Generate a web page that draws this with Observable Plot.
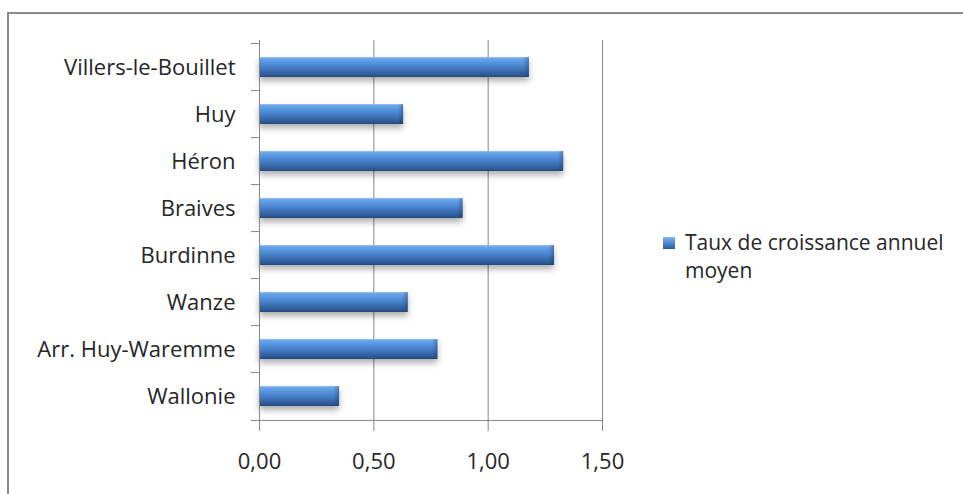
<!DOCTYPE html>
<html>
<head>
<meta charset="utf-8">
<script src="https://cdn.jsdelivr.net/npm/d3@7"></script>
<script src="https://cdn.jsdelivr.net/npm/@observablehq/plot@0.6"></script>
<style>
  html, body { margin: 0; padding: 0; background: #fff; overflow: hidden; }
  #wrap { position: relative; width: 963px; height: 494px; }
  #frame { position: absolute; left: 7px; top: 12px; width: 1000px; height: 600px;
           border: 2px solid #8a8a8a; box-sizing: border-box; pointer-events: none; }
  #legend { position: absolute; left: 663px; top: 228px; font-family: "Open Sans", Lato, sans-serif;
            font-size: 21px; color: #262626; line-height: 28px; white-space: nowrap; }
  #legend .sw { display: inline-block; width: 12px; height: 12px; margin-right: 10px;
                background: linear-gradient(#7fb5ee, #4a84cc 55%, #2d5a98); vertical-align: 1px; }
  #legend .l2 { padding-left: 22px; }
</style>
</head>
<body>
<div id="wrap"><div id="frame"></div><div id="chart"></div><div id="legend"></div></div>
<script>
const categories = ["Villers-le-Bouillet", "Huy", "Héron", "Braives", "Burdinne", "Wanze", "Arr. Huy-Waremme", "Wallonie"];
const values = [1.18, 0.63, 1.33, 0.89, 1.29, 0.65, 0.78, 0.35];
const xTicks = [0, 0.5, 1.0, 1.5];
const xTickLabels = ["0,00", "0,50", "1,00", "1,50"];
const seriesLines = ["Taux de croissance annuel", "moyen"];

const data = categories.map((name, i) => ({name, value: values[i]}));

const W = 963, H = 494, mL = 259, mR = 361, mT = 40, mB = 71;
const step = (H - mT - mB) / categories.length;
const gridColor = "#878787";

const chart = Plot.plot({
  width: W, height: H,
  marginLeft: mL, marginRight: mR, marginTop: mT, marginBottom: mB,
  style: {fontFamily: "'Open Sans', Lato, sans-serif", fontSize: "22px", color: "#262626", background: "transparent"},
  x: {domain: [0, 1.5], ticks: xTicks, tickFormat: d => xTickLabels[xTicks.indexOf(d)], label: null},
  y: {domain: categories, paddingInner: 0.58, paddingOuter: 0.29, label: null},
  marks: [
    Plot.ruleX(xTicks.slice(1), {stroke: gridColor, strokeWidth: 1}),
    Plot.barX(data, {x: "value", y: "name", fill: "url(#barGrad)"}),
    Plot.barX(data, {x1: d => d.value - 0.024, x2: "value", y: "name", fill: "url(#capGrad)"}),
    Plot.ruleX([0], {stroke: gridColor, strokeWidth: 1}),
    Plot.ruleY(categories, {y: d => d, x1: -0.035, x2: 0, dy: -step / 2, stroke: gridColor}),
    Plot.ruleY([categories[categories.length - 1]], {y: d => d, x1: -0.035, x2: 1.5, dy: step / 2, stroke: gridColor}),
    Plot.axisX({ticks: xTicks, tickFormat: d => xTickLabels[xTicks.indexOf(d)], tickSize: 8, tickPadding: 22, stroke: gridColor, fill: "#262626", label: null}),
    Plot.axisY({tickSize: 0, tickPadding: 24, fill: "#262626", label: null})
  ]
});

const ns = "http://www.w3.org/2000/svg";
const defs = document.createElementNS(ns, "defs");
defs.innerHTML = `
<linearGradient id="barGrad" x1="0" y1="0" x2="0" y2="1">
  <stop offset="0" stop-color="#9cc8f4"/>
  <stop offset="0.08" stop-color="#68a5ea"/>
  <stop offset="0.32" stop-color="#5290dc"/>
  <stop offset="0.52" stop-color="#457ec6"/>
  <stop offset="0.75" stop-color="#3766a6"/>
  <stop offset="0.93" stop-color="#2b5590"/>
  <stop offset="1" stop-color="#22467a"/>
</linearGradient>
<linearGradient id="capGrad" x1="0" y1="0" x2="1" y2="0">
  <stop offset="0" stop-color="#1a355e" stop-opacity="0"/>
  <stop offset="0.85" stop-color="#1a355e" stop-opacity="0.3"/>
  <stop offset="1" stop-color="#1a355e" stop-opacity="0.6"/>
</linearGradient>`;
chart.insertBefore(defs, chart.firstChild);
const barGs = chart.querySelectorAll('g[aria-label="bar"]');
if (barGs[0]) barGs[0].style.filter = "drop-shadow(0px 4px 3px rgba(0,0,0,0.32))";

document.getElementById("chart").appendChild(chart);
document.getElementById("legend").innerHTML =
  `<div><span class="sw"></span>${seriesLines[0]}</div><div class="l2">${seriesLines[1]}</div>`;
</script>
</body>
</html>
